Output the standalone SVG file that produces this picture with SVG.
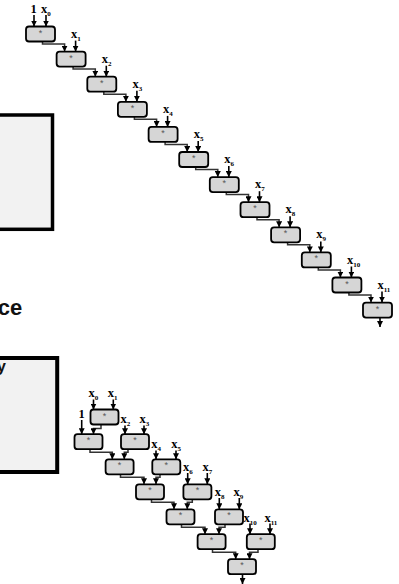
<svg xmlns="http://www.w3.org/2000/svg" width="399" height="584" viewBox="0 0 399 584">
  <style>
    .op { fill: #d6d6d6; stroke: #000; stroke-width: 1.8; }
    .star { font-family: "Liberation Sans", Arial, sans-serif; font-size: 9px; fill: #555; text-anchor: middle; }
    .lbl { font-family: "Liberation Serif", "Times New Roman", serif; font-weight: bold; font-size: 12.5px; fill: #000; }
    .sub { font-size: 7px; }
    .in { stroke: #000; stroke-width: 1.6; fill: none; marker-end: url(#ah); }
    .wire { stroke: #333; stroke-width: 1.5; fill: none; marker-end: url(#ah); }
    .panel { fill: #f2f2f2; stroke: #000; }
    .big { font-family: "Liberation Sans", Arial, sans-serif; font-weight: bold; fill: #111; }
  </style>
  <defs>
    <marker id="ah" markerUnits="userSpaceOnUse" markerWidth="6" markerHeight="6" refX="6" refY="3" orient="auto">
      <path d="M0,0 L6,3 L0,6 z" fill="#000"/>
    </marker>
  </defs>

  <!-- side panels, cut at the left edge -->
  <rect id="panel-a" class="panel" x="-10" y="115" width="62.5" height="114.3" stroke-width="3.5"/>
  <text id="caption" class="big" x="22.3" y="315" font-size="22" text-anchor="end">ce</text>
  <rect id="panel-b" class="panel" x="-10" y="358" width="67.2" height="114" stroke-width="4"/>
  <text id="panel-b-text" class="big" x="-3" y="372" font-size="16">y</text>

  <!-- sequential chain: input wires -->
  <g id="chain-inputs">
    <text class="lbl" x="30.5" y="13.3">1</text>
    <text class="lbl" x="41" y="13.3">x<tspan class="sub" dy="3">0</tspan></text>
    <line class="in" x1="34" y1="15" x2="34" y2="26.5"/>
    <line class="in" x1="46" y1="15" x2="46" y2="26.5"/>

    <text class="lbl" x="71.1" y="37.6">x<tspan class="sub" dy="3">1</tspan></text>
    <line class="in" x1="75.6" y1="40.6" x2="75.6" y2="51.6"/>
    <text class="lbl" x="101.8" y="62.7">x<tspan class="sub" dy="3">2</tspan></text>
    <line class="in" x1="106.3" y1="65.7" x2="106.3" y2="76.7"/>
    <text class="lbl" x="132.4" y="87.8">x<tspan class="sub" dy="3">3</tspan></text>
    <line class="in" x1="136.9" y1="90.8" x2="136.9" y2="101.8"/>
    <text class="lbl" x="163.1" y="112.9">x<tspan class="sub" dy="3">4</tspan></text>
    <line class="in" x1="167.6" y1="115.9" x2="167.6" y2="126.9"/>
    <text class="lbl" x="193.7" y="138">x<tspan class="sub" dy="3">5</tspan></text>
    <line class="in" x1="198.2" y1="141" x2="198.2" y2="152"/>
    <text class="lbl" x="224.3" y="163.1">x<tspan class="sub" dy="3">6</tspan></text>
    <line class="in" x1="228.8" y1="166.1" x2="228.8" y2="177.1"/>
    <text class="lbl" x="255" y="188.2">x<tspan class="sub" dy="3">7</tspan></text>
    <line class="in" x1="259.5" y1="191.2" x2="259.5" y2="202.2"/>
    <text class="lbl" x="285.6" y="213.3">x<tspan class="sub" dy="3">8</tspan></text>
    <line class="in" x1="290.1" y1="216.3" x2="290.1" y2="227.3"/>
    <text class="lbl" x="316.3" y="238.4">x<tspan class="sub" dy="3">9</tspan></text>
    <line class="in" x1="320.8" y1="241.4" x2="320.8" y2="252.4"/>
    <text class="lbl" x="346.9" y="263.5">x<tspan class="sub" dy="3">10</tspan></text>
    <line class="in" x1="351.4" y1="266.5" x2="351.4" y2="277.5"/>
    <text class="lbl" x="377.5" y="288.6">x<tspan class="sub" dy="3">11</tspan></text>
    <line class="in" x1="382" y1="291.6" x2="382" y2="302.6"/>
  </g>

  <!-- sequential chain: links between operators -->
  <g id="chain-links">
    <polyline class="wire" points="42.5,41.5 42.5,44 64.6,44 64.6,51.6"/>
    <polyline class="wire" points="73.1,66.6 73.1,69.1 95.3,69.1 95.3,76.7"/>
    <polyline class="wire" points="103.8,91.7 103.8,94.2 125.9,94.2 125.9,101.8"/>
    <polyline class="wire" points="134.4,116.8 134.4,119.3 156.6,119.3 156.6,126.9"/>
    <polyline class="wire" points="165.1,141.9 165.1,144.4 187.2,144.4 187.2,152"/>
    <polyline class="wire" points="195.7,167 195.7,169.5 217.8,169.5 217.8,177.1"/>
    <polyline class="wire" points="226.3,192.1 226.3,194.6 248.5,194.6 248.5,202.2"/>
    <polyline class="wire" points="257,217.2 257,219.7 279.1,219.7 279.1,227.3"/>
    <polyline class="wire" points="287.6,242.3 287.6,244.8 309.8,244.8 309.8,252.4"/>
    <polyline class="wire" points="318.3,267.4 318.3,269.9 340.4,269.9 340.4,277.5"/>
    <polyline class="wire" points="348.9,292.5 348.9,295 371,295 371,302.6"/>
    <line class="in" x1="380" y1="317.6" x2="380" y2="327"/>
  </g>

  <!-- sequential chain: operators -->
  <g id="s0"><rect class="op" x="26" y="26.5" width="29" height="15" rx="3"/><text class="star" x="40.5" y="35.5">*</text></g>
  <g id="s1"><rect class="op" x="56.6" y="51.6" width="29" height="15" rx="3"/><text class="star" x="71.1" y="60.6">*</text></g>
  <g id="s2"><rect class="op" x="87.3" y="76.7" width="29" height="15" rx="3"/><text class="star" x="101.8" y="85.7">*</text></g>
  <g id="s3"><rect class="op" x="117.9" y="101.8" width="29" height="15" rx="3"/><text class="star" x="132.4" y="110.8">*</text></g>
  <g id="s4"><rect class="op" x="148.6" y="126.9" width="29" height="15" rx="3"/><text class="star" x="163.1" y="135.9">*</text></g>
  <g id="s5"><rect class="op" x="179.2" y="152" width="29" height="15" rx="3"/><text class="star" x="193.7" y="161">*</text></g>
  <g id="s6"><rect class="op" x="209.8" y="177.1" width="29" height="15" rx="3"/><text class="star" x="224.3" y="186.1">*</text></g>
  <g id="s7"><rect class="op" x="240.5" y="202.2" width="29" height="15" rx="3"/><text class="star" x="255" y="211.2">*</text></g>
  <g id="s8"><rect class="op" x="271.1" y="227.3" width="29" height="15" rx="3"/><text class="star" x="285.6" y="236.3">*</text></g>
  <g id="s9"><rect class="op" x="301.8" y="252.4" width="29" height="15" rx="3"/><text class="star" x="316.3" y="261.4">*</text></g>
  <g id="s10"><rect class="op" x="332.4" y="277.5" width="29" height="15" rx="3"/><text class="star" x="346.9" y="286.5">*</text></g>
  <g id="s11"><rect class="op" x="363" y="302.6" width="29" height="15" rx="3"/><text class="star" x="377.5" y="311.6">*</text></g>

  <!-- tree: input wires -->
  <g id="tree-inputs">
    <text class="lbl" x="88.5" y="397.3">x<tspan class="sub" dy="3">0</tspan></text>
    <line class="in" x1="93.5" y1="399.5" x2="93.5" y2="409.5"/>
    <text class="lbl" x="107.8" y="397.3">x<tspan class="sub" dy="3">1</tspan></text>
    <line class="in" x1="113.3" y1="399.5" x2="113.3" y2="409.5"/>
    <text class="lbl" x="78.5" y="418.3">1</text>
    <line class="in" x1="81.7" y1="420" x2="81.7" y2="434.2"/>
    <text class="lbl" x="120.5" y="423.3">x<tspan class="sub" dy="3">2</tspan></text>
    <line class="in" x1="125" y1="425.5" x2="125" y2="434.2"/>
    <text class="lbl" x="139.5" y="423.3">x<tspan class="sub" dy="3">3</tspan></text>
    <line class="in" x1="144" y1="425.5" x2="144" y2="434.2"/>
    <text class="lbl" x="151.3" y="448.3">x<tspan class="sub" dy="3">4</tspan></text>
    <line class="in" x1="156" y1="450.5" x2="156" y2="459.3"/>
    <text class="lbl" x="171.3" y="448.3">x<tspan class="sub" dy="3">5</tspan></text>
    <line class="in" x1="176" y1="450.5" x2="176" y2="459.3"/>
    <text class="lbl" x="183" y="471">x<tspan class="sub" dy="3">6</tspan></text>
    <line class="in" x1="187.7" y1="473" x2="187.7" y2="484.3"/>
    <text class="lbl" x="202.5" y="471">x<tspan class="sub" dy="3">7</tspan></text>
    <line class="in" x1="207.3" y1="473" x2="207.3" y2="484.3"/>
    <text class="lbl" x="214.8" y="496">x<tspan class="sub" dy="3">8</tspan></text>
    <line class="in" x1="219.3" y1="498" x2="219.3" y2="509.3"/>
    <text class="lbl" x="233.5" y="496">x<tspan class="sub" dy="3">9</tspan></text>
    <line class="in" x1="239.3" y1="498" x2="239.3" y2="509.3"/>
    <text class="lbl" x="243.5" y="521.7">x<tspan class="sub" dy="3">10</tspan></text>
    <line class="in" x1="250" y1="523.5" x2="250" y2="534.2"/>
    <text class="lbl" x="264.5" y="521.7">x<tspan class="sub" dy="3">11</tspan></text>
    <line class="in" x1="270" y1="523.5" x2="270" y2="534.2"/>
  </g>

  <!-- tree: links between operators -->
  <g id="tree-links">
    <polyline class="wire" points="101,424.5 101,428.5 93.5,428.5 93.5,434.2"/>
    <polyline class="wire" points="90,449.2 90,452.2 112.3,452.2 112.3,459.3"/>
    <polyline class="wire" points="128,449.2 128,452.2 124.3,452.2 124.3,459.3"/>
    <polyline class="wire" points="120.5,474.3 120.5,477.3 144,477.3 144,484.3"/>
    <polyline class="wire" points="160,474.3 160,477.3 156,477.3 156,484.3"/>
    <polyline class="wire" points="151.5,499.3 151.5,502.3 174,502.3 174,509.3"/>
    <polyline class="wire" points="192.3,499.3 192.3,502.3 187.3,502.3 187.3,509.3"/>
    <polyline class="wire" points="181.5,524.3 181.5,527.3 205,527.3 205,534.2"/>
    <polyline class="wire" points="225,524.3 225,527.3 219,527.3 219,534.2"/>
    <polyline class="wire" points="212.5,549.2 212.5,552.2 235.7,552.2 235.7,559.2"/>
    <polyline class="wire" points="258,549.2 258,552.2 249.5,552.2 249.5,559.2"/>
    <line class="in" x1="242.5" y1="574.2" x2="242.5" y2="584"/>
  </g>

  <!-- tree: operators -->
  <g id="t0"><rect class="op" x="90.5" y="409.5" width="28" height="15" rx="3"/><text class="star" x="104.5" y="418.5">*</text></g>
  <g id="l1"><rect class="op" x="74.5" y="434.2" width="28" height="15" rx="3"/><text class="star" x="88.5" y="443.2">*</text></g>
  <g id="r1"><rect class="op" x="121" y="434.2" width="28" height="15" rx="3"/><text class="star" x="135" y="443.2">*</text></g>
  <g id="l2"><rect class="op" x="105.6" y="459.3" width="28" height="15" rx="3"/><text class="star" x="119.6" y="468.3">*</text></g>
  <g id="r2"><rect class="op" x="152.3" y="459.3" width="28" height="15" rx="3"/><text class="star" x="166.3" y="468.3">*</text></g>
  <g id="l3"><rect class="op" x="136" y="484.3" width="28" height="15" rx="3"/><text class="star" x="150" y="493.3">*</text></g>
  <g id="r3"><rect class="op" x="183.4" y="484.3" width="28" height="15" rx="3"/><text class="star" x="197.4" y="493.3">*</text></g>
  <g id="l4"><rect class="op" x="166.5" y="509.3" width="28" height="15" rx="3"/><text class="star" x="180.5" y="518.3">*</text></g>
  <g id="r4"><rect class="op" x="215" y="509.3" width="28" height="15" rx="3"/><text class="star" x="229" y="518.3">*</text></g>
  <g id="l5"><rect class="op" x="197.6" y="534.2" width="28" height="15" rx="3"/><text class="star" x="211.6" y="543.2">*</text></g>
  <g id="r5"><rect class="op" x="246.8" y="534.2" width="28" height="15" rx="3"/><text class="star" x="260.8" y="543.2">*</text></g>
  <g id="l6"><rect class="op" x="228" y="559.2" width="28" height="15" rx="3"/><text class="star" x="242" y="568.2">*</text></g>
</svg>
